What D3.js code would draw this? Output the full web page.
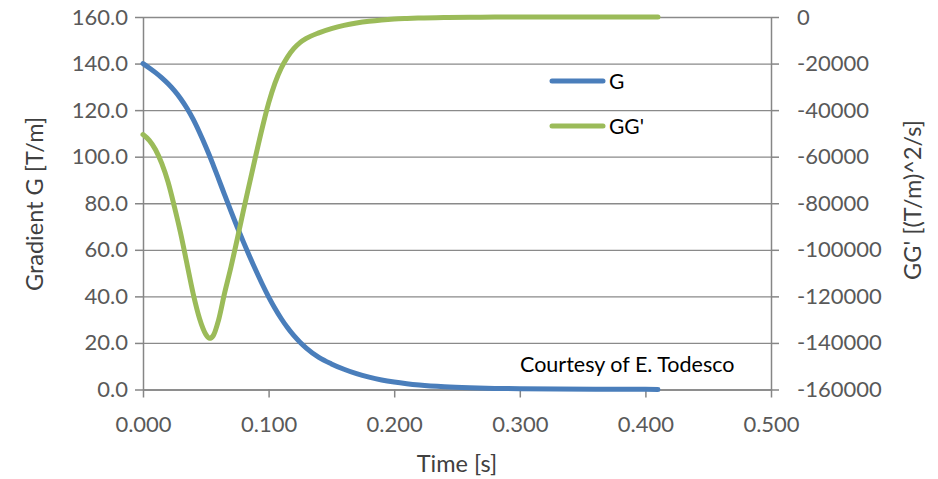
<!DOCTYPE html>
<html>
<head>
<meta charset="utf-8">
<script src="https://cdn.jsdelivr.net/npm/d3@7"></script>
<style>
  body { margin: 0; background: #fff; }
  svg { display: block; }
</style>
</head>
<body>
<svg id="chart" width="938" height="479"></svg>
<script>
// values
const time = [0, 0.005, 0.01, 0.015, 0.02, 0.025, 0.03, 0.035, 0.04, 0.045, 0.05, 0.053, 0.056,
  0.06, 0.065, 0.07, 0.075, 0.08, 0.085, 0.09, 0.095, 0.10, 0.105, 0.11, 0.115, 0.12, 0.125, 0.13,
  0.14, 0.15, 0.16, 0.17, 0.18, 0.19, 0.20, 0.21, 0.22, 0.24, 0.26, 0.28, 0.30, 0.33, 0.36, 0.39, 0.41];
const gradient = [140, 138.1, 136.1, 133.85, 131.3, 128.35, 124.9, 120.8, 116.0, 110.4, 104.3, 100.4, 96.3,
  90.7, 83.6, 76.6, 69.8, 63.3, 57.0, 51.0, 45.2, 39.8, 34.9, 30.5, 26.6, 23.2, 20.3, 17.8,
  13.8, 11.0, 8.7, 6.8, 5.3, 4.1, 3.2, 2.5, 1.95, 1.2, 0.75, 0.48, 0.32, 0.18, 0.1, 0.06, 0.05];
const ggPrime = [-50500, -53000, -57000, -63000, -71000, -81500, -93000, -106000, -119000, -129500, -136300, -138000, -136800,
  -130500, -118500, -107500, -95500, -83000, -71000, -59000, -47500, -37000, -28500, -22000, -17200, -13600, -11000, -9200,
  -6800, -5000, -3600, -2600, -1850, -1300, -900, -650, -450, -220, -100, -50, -20, 0, 0, 0, 0];

const leftTicks = [0, 20, 40, 60, 80, 100, 120, 140, 160];
const rightTicks = [0, -20000, -40000, -60000, -80000, -100000, -120000, -140000, -160000];
const xTicks = [0, 0.1, 0.2, 0.3, 0.4, 0.5];
const seriesNames = ["G", "GG'"];

const width = 938, height = 479;
const margin = {left: 143, right: 167, top: 17, bottom: 89.5};
const w = width - margin.left - margin.right;
const h = height - margin.top - margin.bottom;

const font = "Lato, 'Open Sans', sans-serif";
const blue = "#4a7ebb";
const green = "#9bbb59";
const axis_color = "#868686";
const grid_color = "#8a8a8a";
const label_color = "#595959";

const svg = d3.select("#chart");
svg.append("rect").attr("width", width).attr("height", height).attr("fill", "#fff");

const g = svg.append("g")
  .attr("transform", `translate(${margin.left}, ${margin.top})`);

// scales
const x = d3.scaleLinear().domain([0, 0.5]).range([0, w]);
const yL = d3.scaleLinear().domain([0, 160]).range([h, 0]);
const yR = d3.scaleLinear().domain([-160000, 0]).range([h, 0]);

// gridlines
g.append("g")
  .call(d3.axisLeft(yL).tickValues(leftTicks).tickSize(-w).tickFormat(""))
  .call(el => el.select(".domain").remove())
  .selectAll(".tick line")
  .attr("stroke", grid_color)
  .attr("stroke-width", 1.3);

// left axis
g.append("g")
  .call(d3.axisLeft(yL).tickValues(leftTicks).tickFormat(d3.format(".1f")).tickSize(8).tickPadding(7).tickSizeOuter(0))
  .call(style_axis);

// right axis (plain hyphen for the minus sign)
g.append("g")
  .attr("transform", `translate(${w},0)`)
  .call(d3.axisRight(yR).tickValues(rightTicks).tickFormat(d => String(d)).tickSize(8).tickPadding(18).tickSizeOuter(0))
  .call(style_axis);

// bottom axis
g.append("g")
  .attr("transform", `translate(0,${h})`)
  .call(d3.axisBottom(x).tickValues(xTicks).tickFormat(d3.format(".3f")).tickSize(8).tickPadding(19).tickSizeOuter(0))
  .call(style_axis);

// axis titles
g.append("text")
  .attr("transform", `translate(${35 - margin.left},${204 - margin.top}) rotate(-90)`)
  .attr("text-anchor", "middle")
  .attr("dy", "0.35em")
  .attr("fill", "#404040")
  .style("font", `23.5px ${font}`)
  .text("Gradient G [T/m]");

g.append("text")
  .attr("transform", `translate(${913 - margin.left},${200 - margin.top}) rotate(-90)`)
  .attr("text-anchor", "middle")
  .attr("dy", "0.35em")
  .attr("fill", "#404040")
  .style("font", `23.5px ${font}`)
  .text("GG' [(T/m)^2/s]");

g.append("text")
  .attr("x", w / 2)
  .attr("y", 472 - margin.top)
  .attr("text-anchor", "middle")
  .attr("fill", "#404040")
  .style("font", `23.5px ${font}`)
  .text("Time [s]");

// series
const pts = time.map((t, i) => ({t, G: gradient[i], GG: ggPrime[i]}));

const lineG = d3.line().x(d => x(d.t)).y(d => yL(d.G)).curve(d3.curveMonotoneX);
const lineGG = d3.line().x(d => x(d.t)).y(d => yR(d.GG)).curve(d3.curveMonotoneX);

g.append("path")
  .attr("d", lineG(pts))
  .attr("fill", "none")
  .attr("stroke", blue)
  .attr("stroke-width", 5)
  .attr("stroke-linecap", "round")
  .attr("stroke-linejoin", "round");

g.append("path")
  .attr("d", lineGG(pts))
  .attr("fill", "none")
  .attr("stroke", green)
  .attr("stroke-width", 5)
  .attr("stroke-linecap", "round")
  .attr("stroke-linejoin", "round");

// legend
const legend = svg.append("g").attr("transform", "translate(550,81)");
legend.selectAll("g")
  .data(seriesNames)
  .enter().append("g")
  .attr("transform", (d, i) => `translate(0,${i * 45})`)
  .each(function(d, i) {
    const el = d3.select(this);
    el.append("line")
      .attr("x1", 2).attr("x2", 53)
      .attr("stroke", i === 0 ? blue : green)
      .attr("stroke-width", 5)
      .attr("stroke-linecap", "round");
    el.append("text")
      .attr("x", 59)
      .attr("dy", "0.36em")
      .attr("fill", "#000")
      .style("font", `21px ${font}`)
      .text(d);
  });

svg.append("text")
  .attr("x", 520)
  .attr("y", 372)
  .attr("fill", "#000")
  .style("font", `21.5px ${font}`)
  .text("Courtesy of E. Todesco");

function style_axis(el) {
  el.select(".domain").attr("stroke", axis_color).attr("stroke-width", 1.5);
  el.selectAll(".tick line").attr("stroke", axis_color).attr("stroke-width", 1.5);
  el.selectAll(".tick text")
    .attr("fill", label_color)
    .style("font", `22px ${font}`);
}
</script>
</body>
</html>
